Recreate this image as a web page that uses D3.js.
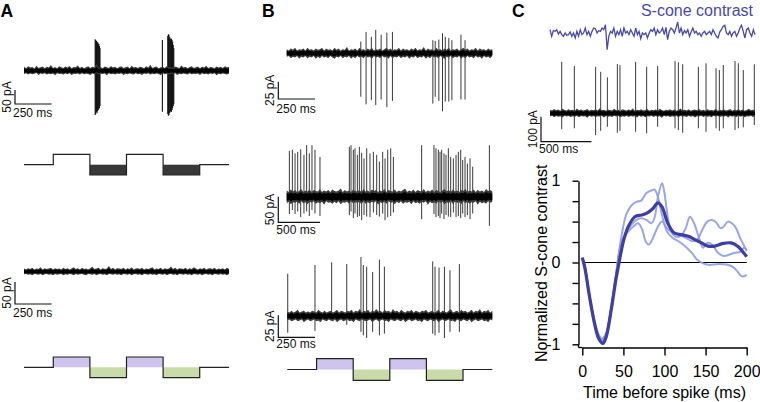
<!DOCTYPE html>
<html><head><meta charset="utf-8">
<script src="https://cdn.jsdelivr.net/npm/d3@7"></script>
<style>
body{margin:0;background:#fff}
svg{display:block}
text{font-family:"Liberation Sans",Arial,Helvetica,sans-serif}
</style>
</head><body>
<svg id="c" width="760" height="402"></svg>
<script>
// ---------------- DATA ----------------
// stimulus protocol (ms boundaries and levels: 1 = increment, -1 = decrement)
const stimTimes = [0, 200, 450, 700, 950, 1200, 1400];
const stimLevels = [0, 1, -1, 1, -1, 0];

// Panel A, top trace: spikes [time ms, up pA, down pA]
const spikesA1 = [[486,112,158],[490,110,155],[495,106,147],[499,103,151],[503,101,144],[507,97,140],[511,95,137],[515,88,133],[519,81,126],
  [945,110,147],
  [982,124,155],[986,130,161],[990,128,158],[995,120,151],[999,113,147],[1003,116,144],[1007,113,147],[1011,110,140],[1015,103,133],[1019,92,126],[1023,81,119]];
// baseline noise envelopes (pA)
const noiseA1Up = [14,9,16,11,13,8,18,10,12,15,9,14,11,20,10,13,9,16,12,10,15,11,17,9,13,12,19,10,14,9,12,16,10,14,11,24,10,13,9,15,12,10,17,11,14,9,13,16,10,12,15,9,18,11,13,10,14,12,9,16,11,21,10,13,15,9,12,14,10,17,11,13,9,15,12,10,19,11,14,9,13,16,10,12,15,9,14,11,18,10,13,12,9,15,11,14,10,16,12,13];
const noiseA1Down = [12,9,14,10,13,11,8,15,10,12,9,14,11,13,10,16,9,12,11,14,10,13,9,15,11,12,10,14,9,13,11,12,15,10,13,9,14,11,12,10,16,9,13,11,14,10,12,9,15,11,13,10,12,14,9,13,11,15,10,12,9,14,11,13,10,12,16,9,13,11,14,10,12,9,15,11,13,10,12,14,9,13,11,12,10,15,9,13,11,14,10,12,9,16,11,13,10,12,14,11];
// Panel A, bottom trace (no spikes)
const noiseA2Up = [7,5,8,6,9,5,7,6,10,5,8,6,7,9,5,8,6,7,5,9,6,8,5,7,10,6,8,5,9,6,7,5,8,11,6,7,9,5,8,6,7,13,6,9,5,8,7,6,9,5,8,6,10,5,7,8,6,9,5,7,6,8,10,5,7,6,9,5,8,6,7,12,6,9,5,8,7,6,9,5,8,6,10,7,5,8,6,9,5,7,8,6,9,5,7,6,8,5,9,6];
const noiseA2Down = [6,5,7,6,8,5,6,7,5,8,6,5,7,6,8,5,7,6,5,8,6,7,5,6,8,5,7,6,5,7,8,5,6,7,5,8,6,5,7,6,8,5,6,7,5,7,6,8,5,6,7,5,8,6,5,7,6,8,5,6,7,5,7,6,8,5,6,7,5,8,6,5,7,6,8,5,6,7,5,7,6,8,5,6,7,5,8,6,5,7,6,8,5,6,7,5,7,6,8,5];

// Panel B traces
const spikesB1 = [[506,17,63],[542,31,74],[578,24,68],[608,34,75],[645,27,67],[684,30,78],[722,31,69],
  [998,19,73],[1014,18,63],[1039,20,69],[1064,29,84],[1083,24,70],[1107,22,70],[1128,19,68],[1190,27,67],[1218,19,67]];
const noiseB1Up = [6,4,7,5,8,4,6,5,7,4,8,5,6,4,7,5,6,8,4,7,5,6,4,8,5,7,4,6,5,9,4,6,5,7,4,8,5,6,4,7,5,8,4,6,5,7,4,6,8,5,7,4,6,5,8,4,7,5,6,4,7,5,8,4,6,5,9,4,7,5,6,4,8,5,6,4,7,5,8,4,6,5,7,4,6,8,5,7,4,6,5,8,4,7,5,6,4,7,5,6];
const noiseB1Down = [5,4,7,5,6,4,8,5,6,4,7,5,6,4,8,5,7,4,6,5,7,4,6,8,5,6,4,7,5,6,4,8,5,7,4,6,5,7,4,6,5,8,4,6,5,7,4,6,5,8,4,7,5,6,4,7,5,6,4,8,5,6,4,7,5,6,4,8,5,7,4,6,5,7,4,6,8,5,6,4,7,5,6,4,8,5,7,4,6,5,7,4,6,5,8,4,6,5,7,4];

const spikesB2 = [[32,90,34],[68,92,26],[100,85,34],[132,88,29],[168,93,40],[207,82,33],[239,101,29],[271,85,38],[303,101,26],[339,92,33],[399,78,38],
  [751,98,36],[771,101,29],[799,92,42],[819,95,33],[847,82,40],[871,98,38],[899,86,46],[927,75,36],[959,95,39],[999,85,40],[1039,88,31],[1079,82,36],[1111,69,39],[1151,88,33],[1179,75,46],[1211,92,40],[1247,95,38],[1279,78,31],
  [1618,101,44],
  [1766,101,34],[1790,95,40],[1818,92,38],[1838,88,42],[1858,92,33],[1886,85,44],[1910,82,36],[1938,95,39],[1966,78,40],[1998,75,31],[2030,82,40],[2058,88,38],[2086,92,42],[2110,72,33],[2138,78,40],[2166,65,36],[2198,75,44],[2230,59,33],
  [2430,101,57]];
const noiseB2Up = [12,9,14,10,13,9,11,15,9,12,10,14,9,13,11,10,15,9,12,10,13,9,14,11,10,12,16,9,13,10,12,9,14,11,10,13,9,15,10,12,9,14,11,13,9,12,10,15,9,13,11,10,14,9,12,10,13,16,9,12,10,14,9,13,11,10,15,9,12,10,14,9,13,11,9,12,15,10,13,9,14,10,12,9,13,11,15,9,12,10,14,9,13,10,12,9,15,11,13,10];
const noiseB2Down = [13,10,15,11,12,10,14,9,13,11,15,10,12,9,14,11,13,10,16,9,12,11,14,10,13,9,15,11,12,10,14,9,13,11,12,10,15,9,14,11,13,10,12,9,16,11,13,10,14,9,12,11,15,10,13,9,14,11,12,10,15,9,13,11,14,10,12,9,16,10,13,11,14,9,12,10,15,11,13,9,14,10,12,11,15,9,13,10,14,11,12,9,16,10,13,11,14,9,12,10];

const spikesB3 = [[3,48,19],[189,58,17],[303,61,5],[406,59,10],[503,67,18],[519,58,22],[542,56,25],[583,50,18],[629,64,22],[663,56,20],
  [993,62,20],[1009,56,22],[1036,55,19],[1073,56,25],[1111,52,18],[1175,59,18]];
const noiseB3Up = [5,4,6,4,5,7,4,5,6,4,5,4,6,5,4,7,5,4,6,4,5,6,4,5,7,4,6,5,4,6,5,7,4,6,5,8,4,6,5,7,4,6,5,8,5,6,4,7,5,6,4,8,5,6,4,7,5,4,6,5,7,4,6,5,4,6,5,7,4,5,6,4,5,7,4,6,5,4,6,8,4,5,6,4,7,5,6,4,5,7,4,6,5,8,4,6,5,7,4,6];
const noiseB3Down = [5,4,6,5,4,6,5,4,7,5,4,6,5,4,6,5,7,4,5,6,4,5,6,4,7,5,4,6,5,4,6,5,7,4,5,6,4,5,6,5,4,7,5,4,6,5,4,6,5,7,4,5,6,4,5,6,4,7,5,4,6,5,4,6,5,7,4,5,6,4,5,6,4,7,5,4,6,5,4,6,5,7,4,5,6,4,5,6,4,7,5,4,6,5,4,6,5,7,4,5];

// Panel C trace
const spikesC = [[116,206,64],[241,189,60],[452,186,87],[502,166,70],[568,144,54],[667,197,78],[693,193,70],[848,206,74],[957,186,80],[1066,189,54],
  [1238,209,60],[1271,204,67],[1314,196,78],[1469,186,60],[1545,200,74],[1644,180,60],[1677,173,70],[1716,193,60],[1832,209,67],[1865,200,60],[1914,173,56],[2023,196,47]];
const noiseCUp = [14,11,17,12,15,10,18,13,11,16,12,14,10,19,12,15,11,13,17,10,14,12,16,11,20,12,14,10,15,13,11,18,12,14,10,16,13,11,15,12,19,10,14,12,16,11,13,17,10,14,12,15,11,18,13,10,14,12,16,11,15,10,13,19,12,14,11,16,10,13,15,12,17,11,14,10,16,12,13,11,18,10,14,12,15,11,13,17,10,14,12,16,11,15,10,13,18,12,14,11];
const noiseCDown = [13,10,16,11,14,12,17,10,13,11,15,12,14,10,16,11,13,12,18,10,14,11,15,12,13,10,17,11,14,12,15,10,13,11,16,12,14,10,15,11,13,12,17,10,14,11,16,12,13,10,15,11,14,12,18,10,13,11,15,12,14,10,16,11,13,12,15,10,14,11,17,12,13,10,15,11,14,12,16,10,13,11,15,12,14,10,17,11,13,12,15,10,14,11,16,12,13,10,15,11];

// S-cone contrast stimulus (arbitrary units)
const sConeStim = [0.4,-0.4,0.28,0.2,0.4,-0.12,0.2,-0.2,-0.4,0,-0.28,-0.2,0.12,-0.4,0,-0.6,0.2,-0.4,0.4,-0.2,0,0.6,-0.2,0.2,-0.4,0.2,0.6,0.52,0,0.28,0.2,0.6,0.4,1.0,-2.0,-0.4,0.2,0,0.6,-0.4,0.2,-0.2,0.4,-0.4,0.6,0,0.2,-0.2,0.4,0,-0.4,0.6,-0.2,0.2,-0.68,0,-0.2,0,-0.6,0,0.4,0.2,0.6,-0.2,0.4,0,0.2,0.6,-0.2,0.68,-0.8,0.2,0.6,0.4,0,0.6,1.32,0,0.6,-0.2,0.28,0,0.4,-0.4,0.12,0.6,0,0.2,-0.2,0,-0.4,0,0.2,-0.2,0,0.2,-0.2,0.4,0,-0.4,-0.6,0.12,0.4,0.8,0.92,0,-0.2,0.2,-0.4,0,0.2,-0.4,0,0.6,0.92,0.2,-0.6,0.4,0.6,0,-0.4,0.4,-0.2];

// Spike-triggered averages: [time before spike ms, normalized S-cone contrast]
const staMean = [[0,0.06],[3,-0.06],[9,-0.43],[15,-0.75],[20,-0.93],[25,-0.99],[29,-0.91],[35,-0.59],[41,-0.2],[44,-0.04],[47,0.12],[50,0.26],[56,0.44],[64,0.56],[72,0.58],[78,0.6],[86,0.66],[92,0.73],[97,0.68],[104,0.48],[112,0.36],[121,0.34],[129,0.32],[137,0.28],[145,0.24],[153,0.2],[161,0.2],[170,0.23],[181,0.24],[189,0.2],[200,0.07]];
const staCell1 = [[0,0.05],[3,-0.05],[9,-0.42],[15,-0.72],[20,-0.88],[24,-0.93],[29,-0.86],[35,-0.55],[41,-0.15],[45,0.15],[50,0.45],[54,0.6],[60,0.7],[66,0.74],[72,0.76],[78,0.85],[84,0.88],[88,0.89],[92,0.8],[97,0.58],[103,0.38],[110,0.3],[117,0.26],[125,0.2],[133,0.12],[140,0.03],[147,-0.01],[155,-0.03],[163,-0.02],[171,-0.02],[178,-0.03],[184,-0.06],[188,-0.1],[194,-0.17],[200,-0.15]];
const staCell2 = [[0,0.04],[3,-0.06],[9,-0.44],[15,-0.76],[20,-0.93],[24,-0.97],[29,-0.88],[35,-0.57],[41,-0.17],[45,0.12],[50,0.3],[54,0.38],[58,0.44],[66,0.52],[72,0.54],[78,0.52],[84,0.48],[88,0.55],[92,0.8],[97,0.97],[100,0.85],[103,0.62],[108,0.38],[113,0.32],[119,0.32],[125,0.4],[131,0.56],[136,0.48],[142,0.3],[147,0.18],[152,0.24],[158,0.22],[165,0.12],[172,0.08],[180,0.1],[186,0.12],[192,0.13],[197,0.18],[200,0.15]];
const staCell3 = [[0,0.06],[3,-0.04],[9,-0.4],[15,-0.74],[20,-0.9],[24,-0.95],[29,-0.89],[35,-0.58],[41,-0.16],[45,0.13],[50,0.3],[56,0.38],[62,0.44],[68,0.48],[73,0.4],[77,0.26],[81,0.22],[86,0.3],[92,0.44],[97,0.5],[103,0.42],[110,0.36],[118,0.34],[126,0.3],[134,0.26],[140,0.28],[146,0.4],[152,0.5],[158,0.52],[163,0.49],[168,0.42],[172,0.44],[177,0.5],[182,0.48],[187,0.42],[192,0.3],[196,0.22],[200,0.14]];

const staXTicks = [0, 50, 100, 150, 200];
const staYTicks = [-1, -0.75, -0.5, -0.25, 0, 0.25, 0.5, 0.75, 1];
const staYLabels = ["-1", "0", "1"];

// ---------------- DRAWING ----------------
const svg = d3.select("#c");
const FONT = '"Liberation Sans",Arial,Helvetica,sans-serif';

function drawTrace(cfg) {
  const g = svg.append("g");
  const x = d3.scaleLinear().domain([0, cfg.dur]).range([cfg.x0, cfg.x1]);
  const y = d3.scaleLinear().domain([0, 1]).range([cfg.y0, cfg.y0 - cfg.k]);
  const n = cfg.up.length;
  const ti = d3.scaleLinear().domain([0, n - 1]).range([0, cfg.dur]);
  const mkArea = f => d3.area()
    .x((d, i) => x(ti(i)))
    .y0((d, i) => y(-cfg.down[i] * f))
    .y1((d, i) => y(cfg.up[i] * f));
  g.selectAll("line.sp").data(cfg.spikes).join("line")
    .attr("x1", d => x(d[0])).attr("x2", d => x(d[0]))
    .attr("y1", d => y(d[1])).attr("y2", d => y(-d[2]))
    .attr("stroke", cfg.spikeColor || "#3a3a3a")
    .attr("stroke-width", cfg.spikeWidth || 1);
  g.append("path").datum(cfg.up).attr("d", mkArea(1)).attr("fill", "#3c3c3c");
  g.append("path").datum(cfg.up).attr("d", mkArea(0.6)).attr("fill", "#000");
  return { x, y };
}

function scaleBar(sc, bx, by, pA, ms, vLab, hLab, hTextY) {
  const g = svg.append("g");
  const vlen = sc.y(0) - sc.y(pA);
  const hlen = sc.x(ms) - sc.x(0);
  g.append("path")
    .attr("d", `M${bx},${by - vlen}V${by}H${bx + hlen}`)
    .attr("fill", "none").attr("stroke", "#111").attr("stroke-width", 1.2);
  g.append("text")
    .attr("transform", `translate(${bx - 4.5},${by - vlen / 2}) rotate(-90)`)
    .attr("text-anchor", "middle").attr("font-size", 12).attr("fill", "#111")
    .text(vLab);
  g.append("text")
    .attr("x", bx - 2).attr("y", hTextY)
    .attr("font-size", 12).attr("fill", "#111").text(hLab);
}

function drawStim(x0, x1, yb, amp, hiFill, loFill) {
  const g = svg.append("g");
  const x = d3.scaleLinear().domain([0, stimTimes[stimTimes.length - 1]]).range([x0, x1]);
  const y = d3.scaleLinear().domain([-1, 1]).range([yb + amp, yb - amp]);
  const segs = stimLevels.map((l, i) => ({ l, t0: stimTimes[i], t1: stimTimes[i + 1] }));
  g.selectAll("rect").data(segs.filter(s => s.l !== 0)).join("rect")
    .attr("x", s => x(s.t0)).attr("width", s => x(s.t1) - x(s.t0))
    .attr("y", s => Math.min(y(0), y(s.l))).attr("height", s => Math.abs(y(s.l) - y(0)))
    .attr("fill", s => s.l > 0 ? hiFill : loFill);
  const pts = segs.map(s => [s.t0, s.l]).concat([[stimTimes[stimTimes.length - 1], stimLevels[stimLevels.length - 1]]]);
  g.append("path").datum(pts)
    .attr("d", d3.line().x(d => x(d[0])).y(d => y(d[1])).curve(d3.curveStepAfter))
    .attr("fill", "none").attr("stroke", "#222").attr("stroke-width", 1.2);
}

// Panel labels
[["A", 0.5], ["B", 262], ["C", 512]].forEach(([t, xx]) => {
  svg.append("text").attr("x", xx).attr("y", 16.5).attr("font-size", 17.5)
    .attr("font-weight", "bold").attr("fill", "#000").text(t);
});

// ---- Panel A ----
const scA1 = drawTrace({ x0: 24, x1: 229, y0: 70.7, dur: 1400, k: 0.28, up: noiseA1Up, down: noiseA1Down, spikes: spikesA1, spikeColor: "#111", spikeWidth: 1.1 });
scaleBar(scA1, 15, 104, 50, 250, "50 pA", "250 ms", 117);
drawStim(24, 229, 164.7, 10.3, "none", "#383838");
const scA2 = drawTrace({ x0: 24, x1: 229, y0: 271.7, dur: 1400, k: 0.44, up: noiseA2Up, down: noiseA2Down, spikes: [] });
scaleBar(scA2, 15, 304, 50, 250, "50 pA", "250 ms", 317);
drawStim(24, 229, 367.3, 10.3, "#cfc4ee", "#c8dba8");

// ---- Panel B ----
const scB1 = drawTrace({ x0: 286.7, x1: 492.3, y0: 53.3, dur: 1404, k: 0.69, up: noiseB1Up, down: noiseB1Down, spikes: spikesB1 });
scaleBar(scB1, 278.3, 99, 25, 250, "25 pA", "250 ms", 112.5);
const scB2 = drawTrace({ x0: 286.7, x1: 492.3, y0: 196.7, dur: 2465, k: 0.51, up: noiseB2Up, down: noiseB2Down, spikes: spikesB2 });
scaleBar(scB2, 278.3, 222.3, 50, 500, "50 pA", "500 ms", 234);
const scB3 = drawTrace({ x0: 287.3, x1: 492.3, y0: 316, dur: 1400, k: 0.88, up: noiseB3Up, down: noiseB3Down, spikes: spikesB3 });
scaleBar(scB3, 278.3, 337.3, 25, 250, "25 pA", "250 ms", 348);
drawStim(287.3, 492.3, 369.5, 10.8, "#cfc4ee", "#c8dba8");

// ---- Panel C ----
svg.append("text").attr("x", 753).attr("y", 15.5).attr("text-anchor", "end")
  .attr("font-size", 16).attr("fill", "#4a49ab").text("S-cone contrast");
{
  const sx = d3.scaleLinear().domain([0, sConeStim.length - 1]).range([550, 755]);
  const sy = d3.scaleLinear().domain([-1, 1]).range([41.3, 24.7]);
  svg.append("path").datum(sConeStim)
    .attr("d", d3.line().x((d, i) => sx(i)).y(d => sy(d)))
    .attr("fill", "none").attr("stroke", "#4a49ab").attr("stroke-width", 1.3);
}
const scC = drawTrace({ x0: 550, x1: 755, y0: 113.3, dur: 2030, k: 0.25, up: noiseCUp, down: noiseCDown, spikes: spikesC });
scaleBar(scC, 541, 141.7, 100, 500, "100 pA", "500 ms", 153.3);

// STA plot
const cx = d3.scaleLinear().domain([0, 200]).range([582.3, 746.7]);
const cy = d3.scaleLinear().domain([-1, 1]).range([344.3, 180.7]);
const gSta = svg.append("g");
const yAx = d3.axisLeft(cy).tickValues(staYTicks).tickSize(6).tickSizeOuter(0).tickPadding(12)
  .tickFormat(d => { const s = d3.format("d")(d).replace("\u2212", "-"); return Number.isInteger(d) && staYLabels.includes(s) ? s : ""; });
const gy = gSta.append("g").attr("transform", "translate(578.5,0)").call(yAx);
const xAx = d3.axisBottom(cx).tickValues(staXTicks).tickSize(8).tickSizeOuter(0).tickPadding(10);
const gx = gSta.append("g").attr("transform", "translate(0,347.5)").call(xAx);
[gy, gx].forEach(g => {
  g.selectAll("path,line").attr("stroke", "#000").attr("stroke-width", 1.4);
  g.selectAll("text").attr("font-size", 16).attr("font-family", FONT).attr("fill", "#000");
});
gSta.append("line").attr("x1", 578.5).attr("x2", 582.3).attr("y1", 347.5).attr("y2", 347.5).attr("stroke", "#000").attr("stroke-width", 1.4);
gSta.append("line").attr("x1", 578.5).attr("x2", 578.5).attr("y1", 344.3).attr("y2", 347.5).attr("stroke", "#000").attr("stroke-width", 1.4);

gSta.append("line").attr("x1", cx(0)).attr("x2", cx(200)).attr("y1", cy(0)).attr("y2", cy(0))
  .attr("stroke", "#000").attr("stroke-width", 1);

const staLine = d3.line().x(d => cx(d[0])).y(d => cy(d[1])).curve(d3.curveCatmullRom.alpha(0.5));
[staCell1, staCell2, staCell3].forEach(c => {
  gSta.append("path").datum(c).attr("d", staLine).attr("fill", "none")
    .attr("stroke", "#8f9ce2").attr("stroke-width", 2).attr("stroke-opacity", 0.9);
});
gSta.append("path").datum(staMean).attr("d", staLine).attr("fill", "none")
  .attr("stroke", "#3d3fa2").attr("stroke-width", 3.2);

gSta.append("text").attr("x", cx(100)).attr("y", 398.3).attr("text-anchor", "middle")
  .attr("font-size", 16).attr("fill", "#000").text("Time before spike (ms)");
gSta.append("text").attr("transform", "translate(546.5,362) rotate(-90)").attr("text-anchor", "start")
  .attr("font-size", 16).attr("fill", "#000").text("Normalized S-cone contrast");
</script>
</body></html>
